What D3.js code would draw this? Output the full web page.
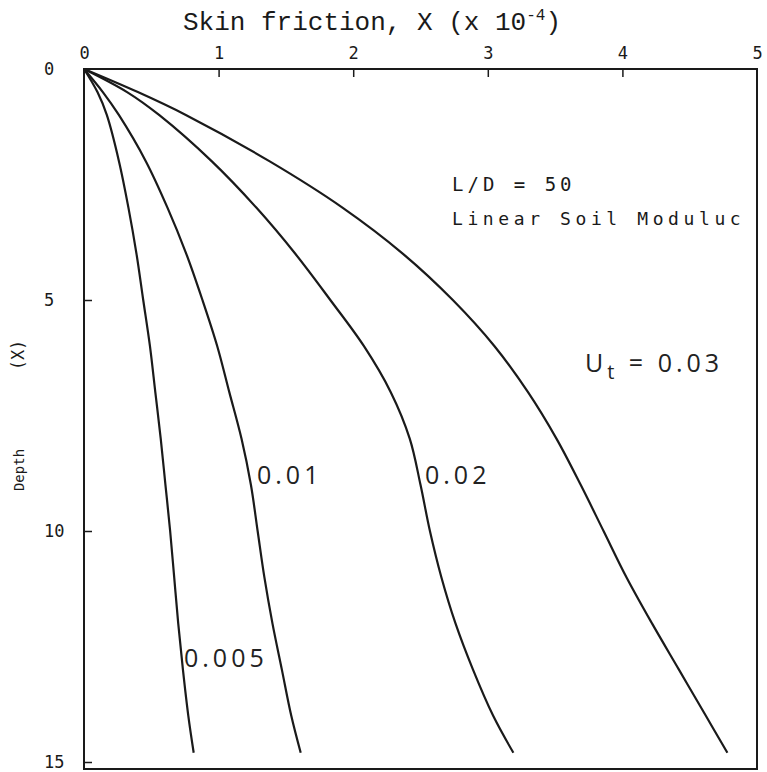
<!DOCTYPE html>
<html>
<head>
<meta charset="utf-8">
<script src="https://cdn.jsdelivr.net/npm/d3@7"></script>
<style>
  body { margin: 0; background: #fff; }
  svg { display: block; }
</style>
</head>
<body>
<svg id="chart" width="767" height="772"></svg>
<script>
// depth values shared by every curve
var depths = [0, 0.5, 1, 2, 3, 4, 5, 6, 7, 8, 9, 10, 11, 12, 13, 14, 14.8];

// skin friction (x 10^-4) for each Ut
var f005 = [0, 0.10, 0.17, 0.26, 0.33, 0.39, 0.44, 0.49, 0.53, 0.57, 0.605, 0.64, 0.67, 0.70, 0.735, 0.775, 0.815];
var f01  = [0, 0.14, 0.26, 0.46, 0.62, 0.76, 0.88, 0.99, 1.08, 1.17, 1.24, 1.29, 1.34, 1.40, 1.47, 1.54, 1.61];
var f02  = [0, 0.32, 0.56, 0.95, 1.28, 1.57, 1.83, 2.08, 2.28, 2.42, 2.50, 2.57, 2.655, 2.76, 2.89, 3.04, 3.19];
var f03  = [0, 0.40, 0.76, 1.38, 1.92, 2.37, 2.74, 3.05, 3.30, 3.51, 3.69, 3.86, 4.03, 4.22, 4.42, 4.62, 4.78];

var xTicks = [0, 1, 2, 3, 4, 5];
var yTicks = [0, 5, 10, 15];

var series = [f005, f01, f02, f03];

var svg = d3.select("#chart");

var x = d3.scaleLinear().domain([0, 5]).range([84, 757]);
var y = d3.scaleLinear().domain([0, 15]).range([69, 762]);

var ink = "#1a1a1a";

// frame
svg.append("rect")
  .attr("x", x(0))
  .attr("y", y(0))
  .attr("width", x(5) - x(0))
  .attr("height", 769 - y(0))
  .attr("fill", "none")
  .attr("stroke", ink)
  .attr("stroke-width", 2);

// top axis, ticks point down into the plot
var xAxis = d3.axisTop(x).tickValues(xTicks).tickSize(-8).tickPadding(10)
  .tickFormat(d3.format("d"));
var gx = svg.append("g").attr("transform", `translate(0, ${y(0)})`).call(xAxis);
gx.select(".domain").remove();
gx.selectAll("line").attr("stroke", ink).attr("stroke-width", 1.5);
gx.selectAll("line").filter(function(d) { return d == 0 || d == 5; }).remove();
gx.selectAll("text")
  .attr("font-family", "DejaVu Sans Mono")
  .attr("font-size", 17)
  .attr("fill", ink);

// left axis, ticks point right; labels sit left-aligned
var yAxis = d3.axisLeft(y).tickValues(yTicks).tickSize(-8).tickFormat(d3.format("d"));
var gy = svg.append("g").attr("transform", `translate(${x(0)}, 0)`).call(yAxis);
gy.select(".domain").remove();
gy.selectAll("line").attr("stroke", ink).attr("stroke-width", 1.5);
gy.selectAll("line").filter(function(d) { return d == 0; }).remove();
gy.selectAll("text")
  .attr("x", -40)
  .attr("text-anchor", "start")
  .attr("font-family", "DejaVu Sans Mono")
  .attr("font-size", 17)
  .attr("fill", ink);

// title
var title = svg.append("text")
  .attr("x", 372)
  .attr("y", 30)
  .attr("text-anchor", "middle")
  .attr("font-family", "Liberation Mono")
  .attr("font-size", 26)
  .attr("fill", ink);
title.append("tspan").text("Skin friction, X (x 10");
title.append("tspan").attr("dy", -10).attr("font-size", 16).text("-4");
title.append("tspan").attr("dy", 10).text(")");

// y label
svg.append("text")
  .attr("transform", "translate(24, 355) rotate(-90)")
  .attr("text-anchor", "middle")
  .attr("font-family", "DejaVu Sans Mono")
  .attr("font-size", 17)
  .attr("fill", ink)
  .text("(X)");
svg.append("text")
  .attr("transform", "translate(24, 470) rotate(-90)")
  .attr("text-anchor", "middle")
  .attr("font-family", "DejaVu Sans Mono")
  .attr("font-size", 14)
  .attr("fill", ink)
  .text("Depth");

// curves
var line = d3.line()
  .x(function(d) { return x(d[1]); })
  .y(function(d) { return y(d[0]); })
  .curve(d3.curveCatmullRom.alpha(0.5));

svg.selectAll("path.curve")
  .data(series)
  .enter().append("path")
  .attr("class", "curve")
  .attr("d", function(s) { return line(d3.zip(depths, s)); })
  .attr("fill", "none")
  .attr("stroke", ink)
  .attr("stroke-width", 2.2);

// notes
svg.append("text")
  .attr("x", 452).attr("y", 191)
  .attr("font-family", "DejaVu Sans Mono")
  .attr("font-size", 19)
  .attr("letter-spacing", 4)
  .attr("fill", ink)
  .text("L/D = 50");
svg.append("text")
  .attr("x", 452).attr("y", 225)
  .attr("font-family", "DejaVu Sans Mono")
  .attr("font-size", 18)
  .attr("letter-spacing", 4.6)
  .attr("fill", ink)
  .text("Linear Soil Moduluc");

// curve labels
function curveLabel(px, py, txt) {
  return svg.append("text")
    .attr("x", px).attr("y", py)
    .attr("font-family", "Open Sans")
    .attr("font-size", 25)
    .attr("letter-spacing", 4)
    .attr("fill", "#222")
    .text(txt);
}
curveLabel(257, 484, "0.01");
curveLabel(425, 484, "0.02");
curveLabel(184, 667, "0.005");
var ut = curveLabel(585, 372, "U");
ut.append("tspan").attr("dy", 7).attr("font-size", 20).text("t");
ut.append("tspan").attr("dy", -7).text(" = 0.03");
</script>
</body>
</html>
